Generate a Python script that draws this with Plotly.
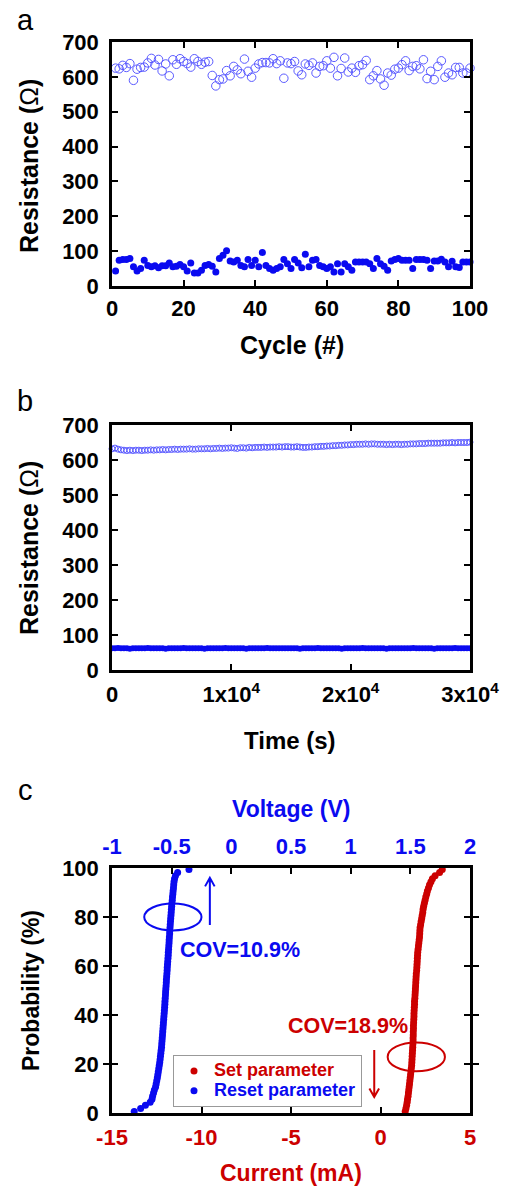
import plotly.graph_objects as go

# ---------------- data ----------------
# panel a: endurance
cycles_a = list(range(1, 101))
hrs_a = [625,623,633,627,638,590,622,627,628,640,
         653,634,650,617,637,603,649,636,652,644,
         638,628,652,644,636,642,644,604,574,592,
         594,618,603,630,620,609,651,616,599,625,
         637,641,641,640,652,638,646,596,640,638,
         644,617,606,637,633,640,611,630,632,646,
         625,656,603,624,654,614,625,613,632,635,
         647,592,603,618,594,576,611,605,622,625,
         635,646,618,630,632,623,649,595,616,592,
         630,646,599,611,606,627,627,611,611,625]
lrs_a = [43,74,76,76,79,55,43,50,74,59,
         55,58,52,58,58,66,55,57,62,55,
         43,66,37,37,45,59,62,57,40,79,
         88,101,72,69,74,59,55,76,59,74,
         55,96,59,50,45,50,55,76,64,50,
         76,66,52,91,55,74,76,59,55,50,
         55,40,64,40,64,55,45,69,69,69,
         69,64,50,79,64,57,45,72,76,79,
         74,74,74,50,76,76,76,74,50,72,
         72,77,69,55,71,55,53,69,69,69]

# panel b: retention
time_b = list(range(0, 30001, 250))
hrs_b = [632,634,631,629,628,627,628,627,628,628,627,628,628,629,628,629,629,630,629,630,
         630,631,630,631,631,631,632,631,631,632,
         632,632,633,632,633,633,634,633,634,634,
         635,634,633,635,635,634,636,635,636,636,
         636,637,636,637,637,637,638,637,638,638,
         637,637,638,637,636,636,637,637,638,638,
         639,639,640,640,641,641,642,642,643,643,
         644,644,645,645,645,646,645,646,646,645,
         645,645,644,645,644,645,645,644,645,645,
         646,646,646,647,647,647,648,648,648,648,
         648,649,649,649,650,649,650,650,650,650,651]
lrs_b = [62,62,63,62,62,62,61,62,62,62,62,62,63,62,62,62,62,62,61,62,
         62,62,62,62,63,62,62,62,62,62,
         62,61,62,62,62,62,62,62,63,62,
         62,62,62,62,62,61,62,62,62,62,
         62,62,63,62,62,62,62,62,62,62,
         62,62,62,61,62,62,62,62,62,63,
         62,62,62,62,62,62,62,61,62,62,
         62,62,62,62,63,62,62,62,62,62,
         62,62,61,62,62,62,62,62,62,62,
         62,63,62,62,62,62,62,62,61,62,
         62,62,62,62,62,63,62,62,62,62,62]

# panel c: cumulative distributions
reset_voltage = [-0.814,-0.76,-0.72,-0.68,-0.665,-0.66,-0.652,-0.645,-0.635,-0.63,
                 -0.625,-0.62,-0.616,-0.612,-0.608,-0.604,-0.6,-0.597,-0.594,-0.591,
                 -0.588,-0.585,-0.583,-0.581,-0.579,-0.577,-0.575,-0.573,-0.571,-0.569,
                 -0.567,-0.565,-0.563,-0.561,-0.559,-0.557,-0.556,-0.554,-0.552,-0.551,
                 -0.549,-0.547,-0.545,-0.544,-0.542,-0.54,-0.538,-0.537,-0.535,-0.533,
                 -0.531,-0.529,-0.528,-0.526,-0.524,-0.522,-0.521,-0.519,-0.517,-0.516,
                 -0.514,-0.512,-0.51,-0.508,-0.506,-0.504,-0.502,-0.5,-0.498,-0.495,
                 -0.493,-0.49,-0.488,-0.485,-0.483,-0.48,-0.476,-0.468,-0.45,-0.355]
set_current = [1.38,1.42,1.46,1.49,1.51,1.54,1.56,1.58,1.6,1.62,
               1.64,1.66,1.68,1.7,1.72,1.74,1.75,1.76,1.77,1.78,
               1.79,1.8,1.81,1.82,1.82,1.83,1.83,1.84,1.84,1.85,
               1.86,1.87,1.87,1.88,1.89,1.9,1.9,1.92,1.93,1.94,
               1.95,1.96,1.97,1.98,1.99,2.0,2.02,2.03,2.04,2.05,
               2.06,2.07,2.08,2.1,2.12,2.14,2.16,2.18,2.19,2.2,
               2.21,2.24,2.27,2.3,2.33,2.36,2.38,2.41,2.45,2.49,
               2.53,2.58,2.62,2.68,2.74,2.82,2.9,3.05,3.3,3.45]
# cumulative probability (%) from rank
prob_reset = [100 * (i + 0.5) / len(reset_voltage) for i in range(len(reset_voltage))]
prob_set = [100 * (i + 0.5) / len(set_current) for i in range(len(set_current))]

time_tickvals = [0, 10000, 20000, 30000]
time_ticktext = ["0", "1x10<sup>4</sup>", "2x10<sup>4</sup>", "3x10<sup>4</sup>"]
volt_tickvals = [-1, -0.5, 0, 0.5, 1, 1.5, 2]
volt_ticktext = ["-1", "-0.5", "0", "0.5", "1", "1.5", "2"]
curr_tickvals = [-15, -10, -5, 0, 5]
curr_ticktext = ["-15", "-10", "-5", "0", "5"]

# ---------------- styling ----------------
W, H = 505, 1188
FONT = "Liberation Sans, Arial, sans-serif"
BLUE = "#0a0af0"
LBLUE = "#5a5aff"
RED = "#cc0000"

def px_x(p):
    return p / W

def px_y(p):
    return 1 - p / H

XDOM = [px_x(112), px_x(470)]

fig = go.Figure()

# panel a
fig.add_trace(go.Scatter(x=cycles_a, y=hrs_a, mode="markers", xaxis="x", yaxis="y",
                         marker=dict(symbol="circle-open", size=8.5, color=LBLUE, line=dict(width=1)),
                         showlegend=False, cliponaxis=False))
fig.add_trace(go.Scatter(x=cycles_a, y=lrs_a, mode="markers", xaxis="x", yaxis="y",
                         marker=dict(symbol="circle", size=7, color=BLUE),
                         showlegend=False, cliponaxis=False))
# panel b
fig.add_trace(go.Scatter(x=time_b, y=hrs_b, mode="markers", xaxis="x2", yaxis="y2",
                         marker=dict(symbol="circle-open", size=6, color=LBLUE, line=dict(width=1)),
                         showlegend=False, cliponaxis=False))
fig.add_trace(go.Scatter(x=time_b, y=lrs_b, mode="markers", xaxis="x2", yaxis="y2",
                         marker=dict(symbol="circle", size=6, color=BLUE),
                         showlegend=False, cliponaxis=False))
# panel c
fig.add_trace(go.Scatter(x=set_current, y=prob_set, mode="markers", xaxis="x3", yaxis="y3",
                         name="<span style='color:%s;font-size:18px'>Set parameter</span>" % RED,
                         marker=dict(symbol="circle", size=7, color=RED),
                         cliponaxis=False))
fig.add_trace(go.Scatter(x=reset_voltage, y=prob_reset, mode="markers", xaxis="x4", yaxis="y3",
                         name="<span style='color:%s;font-size:18px'>Reset parameter</span>" % BLUE,
                         marker=dict(symbol="circle", size=7, color=BLUE),
                         cliponaxis=False))

tickfont = dict(family=FONT, size=22, color="black", weight="bold")
common = dict(showgrid=False, zeroline=False, showline=True, linewidth=2.5, linecolor="black",
              ticks="inside", ticklen=6, tickwidth=2, tickcolor="black", automargin=False)

fig.update_layout(
    width=W, height=H, margin=dict(l=0, r=0, t=0, b=0, autoexpand=False),
    paper_bgcolor="white", plot_bgcolor="white",
    font=dict(family=FONT),
    xaxis=dict(domain=XDOM, anchor="y", range=[0, 100], tickvals=[0, 20, 40, 60, 80, 100],
               mirror="allticks", tickfont=tickfont, ticklabelstandoff=1, **common),
    yaxis=dict(domain=[px_y(286), px_y(42)], anchor="x", range=[0, 700], dtick=100,
               mirror="allticks", tickfont=tickfont, ticklabelstandoff=6, **common),
    xaxis2=dict(domain=XDOM, anchor="y2", range=[0, 30000], tickvals=time_tickvals,
                ticktext=time_ticktext, mirror="allticks", tickfont=tickfont,
                ticklabelstandoff=3, **common),
    yaxis2=dict(domain=[px_y(670), px_y(425)], anchor="x2", range=[0, 700], dtick=100,
                mirror="allticks", tickfont=tickfont, ticklabelstandoff=6, **common),
    xaxis3=dict(domain=XDOM, anchor="y3", range=[-15, 5], tickvals=curr_tickvals,
                ticktext=curr_ticktext, side="bottom",
                tickfont=dict(family=FONT, size=22, color=RED, weight="bold"),
                ticklabelstandoff=3, **common),
    xaxis4=dict(domain=XDOM, anchor="y3", overlaying="x3", range=[-1, 2], tickvals=volt_tickvals,
                ticktext=volt_ticktext, side="top",
                tickfont=dict(family=FONT, size=22, color=BLUE, weight="bold"),
                ticklabelstandoff=2, **common),
    yaxis3=dict(domain=[px_y(1113), px_y(868)], anchor="x3", range=[0, 100], dtick=20,
                mirror="allticks", tickfont=tickfont, ticklabelstandoff=6, **common),
    legend=dict(x=px_x(173), y=px_y(1055), xanchor="left", yanchor="top",
                bgcolor="white", bordercolor="#999999", borderwidth=1,
                font=dict(family=FONT, size=13, weight="bold"), tracegroupgap=0),
)

ann = []
def title(text, x, y, size=24, color="black", angle=0, bold=True):
    ann.append(dict(text=text, x=px_x(x), y=px_y(y), xref="paper", yref="paper",
                    xanchor="center", yanchor="middle", showarrow=False, textangle=angle,
                    font=dict(family=FONT, size=size, color=color,
                              weight="bold" if bold else "normal")))

res_title = "Resistance (<span style='font-weight:normal'>Ω</span>)"
title("a", 25, 20, size=29, bold=False)
title("b", 25, 401, size=29, bold=False)
title("c", 25, 790, size=29, bold=False)
title(res_title, 29, 166, size=25, angle=-90)
title("Cycle (#)", 292, 345, size=25)
title(res_title, 29, 548, size=25, angle=-90)
title("Time (s)", 290, 740, size=24)
title("Probability (%)", 31, 991, size=23, angle=-90)
title("Voltage (V)", 291, 809, size=23, color=BLUE)
title("Current (mA)", 291, 1173, size=23, color=RED)

# COV labels
ann.append(dict(text="COV=10.9%", x=-0.445, y=66.5, xref="x4", yref="y3", xanchor="left",
                yanchor="middle", showarrow=False,
                font=dict(family=FONT, size=21.5, color=BLUE, weight="bold")))
ann.append(dict(text="COV=18.9%", x=-1.83, y=35.5, xref="x3", yref="y3", xanchor="center",
                yanchor="middle", showarrow=False,
                font=dict(family=FONT, size=21.5, color=RED, weight="bold")))
fig.update_layout(annotations=ann)

# ellipses
fig.add_shape(type="circle", xref="x4", yref="y3", x0=-0.73, x1=-0.25, y0=74.5, y1=85.5,
              line=dict(color=BLUE, width=2))
fig.add_shape(type="circle", xref="x3", yref="y3", x0=0.4, x1=3.6, y0=17, y1=28.8,
              line=dict(color=RED, width=2))
# arrows (shaft + open head), blue points up to the voltage axis, red down to the current axis
fig.add_shape(type="path", xref="x4", yref="y3",
              path="M -0.18 76.7 L -0.18 96 M -0.22 92.5 L -0.18 96 L -0.14 92.5",
              line=dict(color=BLUE, width=2))
fig.add_shape(type="path", xref="x3", yref="y3",
              path="M -0.35 25.7 L -0.35 6.5 M -0.62 10 L -0.35 6.5 L -0.08 10",
              line=dict(color=RED, width=2))

fig.write_html("out.html")
